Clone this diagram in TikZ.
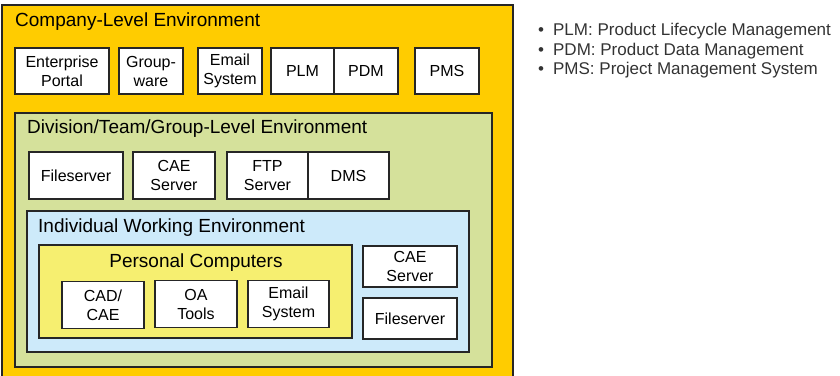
\documentclass[tikz,border=0pt]{standalone}
\usepackage{fontspec}
\setmainfont{Liberation Sans}
\usetikzlibrary{positioning}
\definecolor{companyfill}{RGB}{255,204,0}
\definecolor{divisionfill}{RGB}{213,225,155}
\definecolor{individualfill}{RGB}{205,234,250}
\definecolor{pcfill}{RGB}{246,239,112}
\begin{document}
\begin{tikzpicture}[
 x=1pt,y=-1pt,
 zone/.style={draw=black!85,line width=1.3pt,anchor=north west,inner sep=0pt,outer sep=0pt},
 box/.style={draw=black!85,fill=white,line width=1.3pt,align=center,inner sep=0pt,outer sep=0pt,
  font=\fontsize{16}{19}\selectfont},
 title/.style={anchor=west,inner sep=0pt,font=\fontsize{19}{21}\selectfont},
 note/.style={anchor=west,inner sep=0pt,text=black!80,font=\fontsize{17}{19}\selectfont}]
 \clip (0,0) rectangle (840,375);
 % Company-level environment with its own systems.
 \node[zone,fill=companyfill,minimum width=511,minimum height=380] (company) at (2,5){};
 \node[title] (companytitle) at (15,22){Company-Level Environment};
 \node[box,minimum width=94,minimum height=46] (portal) at (62,71){Enterprise\\Portal};
 \node[box,minimum width=64,minimum height=46] (groupware) at (151,71){Group-\\ware};
 \node[box,minimum width=64,minimum height=46] (email) at (230,71){Email\\System};
 \node[box,minimum width=63,minimum height=46] (plm) at (302.5,71){PLM};
 \node[box,minimum width=64,minimum height=46,right=0pt of plm] (pdm){PDM};
 \node[box,minimum width=64,minimum height=46] (pms) at (447,71){PMS};
 % Division/team/group-level environment.
 \node[zone,fill=divisionfill,minimum width=477,minimum height=254] (division) at (15,113){};
 \node[title] (divisiontitle) at (27,129){Division/Team/Group-Level Environment};
 \node[box,minimum width=94,minimum height=47] (fileserver) at (76,175.5){Fileserver};
 \node[box,minimum width=82,minimum height=47] (caeserver) at (174,175.5){CAE\\Server};
 \node[box,minimum width=81,minimum height=47] (ftp) at (267.5,175.5){FTP\\Server};
 \node[box,minimum width=81,minimum height=47,right=0pt of ftp] (dms){DMS};
 % Individual working environment.
 \node[zone,fill=individualfill,minimum width=442,minimum height=141] (individual) at (27,211){};
 \node[title] (individualtitle) at (38,228){Individual Working Environment};
 \node[zone,fill=pcfill,minimum width=313,minimum height=93] (pc) at (39,245){};
 \node[title,anchor=center] (pctitle) at (196,263){Personal Computers};
 \node[box,minimum width=82,minimum height=47] (cadcae) at (103,305){CAD/\\CAE};
 \node[box,minimum width=82,minimum height=47] (oatools) at (196,304){OA\\Tools};
 \node[box,minimum width=81,minimum height=47] (pcemail) at (288.5,304){Email\\System};
 \node[box,minimum width=94,minimum height=41] (localcae) at (410,266.5){CAE\\Server};
 \node[box,minimum width=94,minimum height=41] (localfiles) at (410,318.5){Fileserver};
 % Abbreviations.
 \foreach \txt [count=\i] in {PLM: Product Lifecycle Management,
   PDM: Product Data Management,PMS: Project Management System}
  \node[note] (note\i) at (538,{12+19.5*\i}){\textbullet\hspace{9pt}\txt};
\end{tikzpicture}
\end{document}
